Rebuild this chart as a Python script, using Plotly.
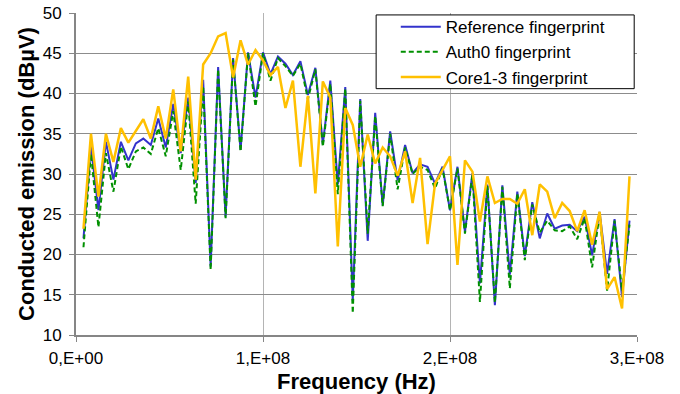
import plotly.graph_objects as go

# Frequencies (MHz)
FREQ_MHZ = [4, 8, 12, 16, 20, 24, 28, 32, 36, 40, 44, 48, 52, 56, 60, 64, 68, 72, 76, 80,
            84, 88, 92, 96, 100, 104, 108, 112, 116, 120, 124, 128, 132, 136, 140, 144, 148, 152, 156, 160,
            164, 168, 172, 176, 180, 184, 188, 192, 196, 200, 204, 208, 212, 216, 220, 224, 228, 232, 236, 240,
            244, 248, 252, 256, 260, 264, 268, 272, 276, 280, 284, 288, 292, 296]

REFERENCE = [22.0, 33.5, 25.5, 34.0, 29.3, 34.0, 31.7, 33.8, 34.4, 33.6,
             36.9, 33.3, 38.7, 32.6, 39.5, 28.9, 41.7, 18.5, 43.3, 24.7,
             44.4, 33.0, 45.1, 39.5, 45.1, 42.4, 44.6, 43.7, 42.3, 44.0,
             39.8, 43.2, 33.7, 41.6, 28.7, 40.8, 14.3, 39.3, 21.7, 37.6,
             26.1, 35.3, 29.2, 33.6, 30.1, 31.2, 30.9, 28.8, 30.9, 25.5,
             30.9, 22.8, 30.1, 16.4, 28.7, 13.7, 28.6, 17.5, 27.8, 19.8,
             26.5, 22.0, 25.1, 23.2, 23.6, 23.7, 22.9, 24.7, 19.9, 25.3,
             17.6, 24.4, 14.7, 24.2]

AUTH0 = [20.9, 32.5, 23.4, 32.6, 27.8, 33.4, 30.6, 32.8, 33.3, 32.5,
         35.7, 32.2, 37.8, 30.5, 39.0, 26.3, 40.9, 18.1, 43.0, 24.5,
         44.2, 32.8, 45.0, 38.4, 45.0, 41.6, 44.4, 43.4, 42.2, 43.7,
         39.3, 43.0, 33.4, 41.2, 27.5, 40.6, 12.7, 39.1, 22.6, 37.2,
         26.0, 35.0, 28.1, 33.3, 30.0, 30.9, 30.5, 28.2, 30.7, 25.5,
         30.7, 22.6, 29.9, 14.1, 28.5, 14.0, 28.4, 15.8, 27.6, 19.3,
         26.2, 22.7, 24.2, 23.0, 22.9, 23.5, 21.9, 24.5, 18.4, 25.0,
         15.5, 24.2, 15.5, 23.7]

CORE13 = [23.2, 35.0, 27.2, 35.0, 31.5, 35.7, 33.9, 35.4, 36.8, 34.4,
          38.4, 34.4, 40.5, 32.8, 42.1, 29.3, 43.6, 45.0, 47.1, 47.5,
          42.0, 46.6, 43.6, 45.4, 44.1, 42.3, 43.3, 38.2, 41.6, 30.9,
          39.7, 27.6, 41.5, 39.5, 21.0, 38.2, 36.1, 30.9, 34.9, 31.3,
          33.3, 32.2, 29.8, 32.8, 26.4, 32.0, 21.3, 28.8, 30.5, 32.2,
          18.7, 31.7, 30.3, 24.1, 29.7, 26.4, 26.9, 26.9, 26.3, 28.1,
          22.4, 28.7, 27.8, 24.5, 26.4, 25.4, 22.9, 25.5, 21.2, 25.3,
          15.7, 17.2, 13.3, 29.7]

X_TICKS = [0, 1e8, 2e8, 3e8]
X_TICK_TEXT = ["0,E+00", "1,E+08", "2,E+08", "3,E+08"]
Y_TICKS = [10, 15, 20, 25, 30, 35, 40, 45, 50]

freq = [f * 1e6 for f in FREQ_MHZ]

FONT = "Liberation Sans, Arial, sans-serif"

fig = go.Figure()
fig.add_trace(go.Scatter(x=freq, y=REFERENCE, mode="lines", name="Reference fingerprint",
                         line=dict(color="#3333cc", width=2)))
fig.add_trace(go.Scatter(x=freq, y=AUTH0, mode="lines", name="Auth0 fingerprint",
                         line=dict(color="#009000", width=2, dash="5px,3px")))
fig.add_trace(go.Scatter(x=freq, y=CORE13, mode="lines", name="Core1-3 fingerprint",
                         line=dict(color="#ffc000", width=2.5)))

# legend frame (drawn as a shape so the box can be wider than plotly's own)
fig.add_shape(type="rect", xref="paper", yref="paper",
              x0=0.535, x1=0.995, y0=0.765, y1=0.994,
              line=dict(color="black", width=1), fillcolor="white", layer="above")

fig.update_layout(
    width=680, height=394,
    margin=dict(l=76, r=43, t=13, b=59, autoexpand=False),
    paper_bgcolor="white", plot_bgcolor="white",
    font=dict(family=FONT, size=17, color="black"),
    showlegend=True,
    legend=dict(x=0.570, y=1.012, xanchor="left", yanchor="top",
                bgcolor="rgba(0,0,0,0)", borderwidth=0,
                font=dict(size=17), itemwidth=40),
    xaxis=dict(range=[0, 3e8], tickvals=X_TICKS, ticktext=X_TICK_TEXT,
               showgrid=True, gridcolor="#b4b4b4", gridwidth=1,
               showline=True, linecolor="#868686", linewidth=2,
               ticks="outside", ticklen=5, tickcolor="#868686",
               zeroline=False, ticklabelstandoff=2, automargin=False,
               title=dict(text="<b>Frequency (Hz)</b>", font=dict(size=22), standoff=7)),
    yaxis=dict(range=[10, 50], tickvals=Y_TICKS,
               showgrid=True, gridcolor="#8c8c8c", gridwidth=1,
               showline=True, linecolor="#868686", linewidth=2,
               ticks="outside", ticklen=5, tickcolor="#868686",
               zeroline=False, ticklabelstandoff=4, automargin=False,
               title=dict(text="<b>Conducted emission (dBµV)</b>", font=dict(size=22), standoff=2)),
)

fig.write_html("out.html")
